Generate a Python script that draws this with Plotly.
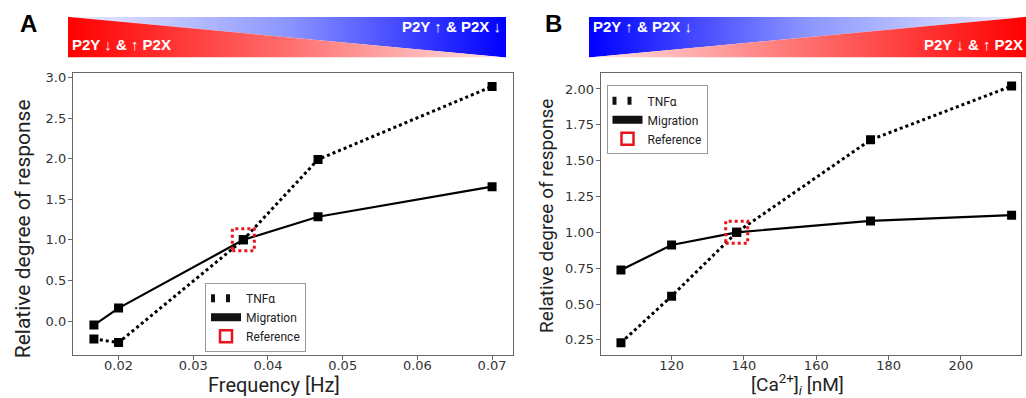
import plotly.graph_objects as go

# ---------------- data ----------------
freq_hz = [0.0167, 0.02, 0.0367, 0.0467, 0.07]
tnfa_a = [-0.22, -0.265, 1.0, 1.99, 2.89]
migration_a = [-0.05, 0.16, 1.0, 1.285, 1.655]
ref_a_x = [0.0367]
ref_a_y = [1.0]

ca_nm = [106, 120, 138, 175, 214]
tnfa_b = [0.23, 0.555, 1.0, 1.645, 2.02]
migration_b = [0.737, 0.912, 1.0, 1.08, 1.12]
ref_b_x = [138]
ref_b_y = [1.0]

legend_names = ["TNFα", "Migration", "Reference"]
banner_up_text = "P2Y ↑ & P2X ↓"
banner_down_text = "P2Y ↓ & ↑ P2X"

W, H = 1026, 398


def px(x):
    return x / W


def py(y):
    return 1 - y / H


fig = go.Figure()

# ---------------- data traces ----------------
for xs, ys, ax in [(freq_hz, tnfa_a, ("x", "y")), (ca_nm, tnfa_b, ("x2", "y2"))]:
    fig.add_trace(go.Scatter(x=xs, y=ys, mode="lines+markers", xaxis=ax[0], yaxis=ax[1],
                             line=dict(color="black", width=3, dash="dot"),
                             marker=dict(symbol="square", size=9, color="black"),
                             showlegend=False, hoverinfo="x+y"))
for xs, ys, ax in [(freq_hz, migration_a, ("x", "y")), (ca_nm, migration_b, ("x2", "y2"))]:
    fig.add_trace(go.Scatter(x=xs, y=ys, mode="lines+markers", xaxis=ax[0], yaxis=ax[1],
                             line=dict(color="black", width=2.2),
                             marker=dict(symbol="square", size=9, color="black"),
                             showlegend=False, hoverinfo="x+y"))

# reference markers (dotted red squares anchored at data points)
for rx, ry, xr, yr in [(ref_a_x, ref_a_y, "x", "y"), (ref_b_x, ref_b_y, "x2", "y2")]:
    for xv, yv in zip(rx, ry):
        fig.add_shape(type="rect", xref=xr, yref=yr, xsizemode="pixel", ysizemode="pixel",
                      xanchor=xv, yanchor=yv, x0=-11, x1=11, y0=-11, y1=11,
                      line=dict(color="#e8141c", width=3, dash="dot"), fillcolor="rgba(0,0,0,0)")

# ---------------- legend-only traces ----------------
for lg, ax in [("legend", ("x", "y")), ("legend2", ("x2", "y2"))]:
    fig.add_trace(go.Scatter(x=[None], y=[None], mode="lines", name=legend_names[0], legend=lg,
                             xaxis=ax[0], yaxis=ax[1],
                             line=dict(color="#111", width=8, dash="4px,11px")))
    fig.add_trace(go.Scatter(x=[None], y=[None], mode="lines", name=legend_names[1], legend=lg,
                             xaxis=ax[0], yaxis=ax[1],
                             line=dict(color="#111", width=8)))
    fig.add_trace(go.Scatter(x=[None], y=[None], mode="markers", name=legend_names[2], legend=lg,
                             xaxis=ax[0], yaxis=ax[1],
                             marker=dict(symbol="square-open", size=12, color="#e8141c",
                                         line=dict(width=2.5, color="#e8141c"))))

# ---------------- gradient banners ----------------
red_scale_lr = [[0, "rgb(255,0,0)"], [0.5, "rgb(255,110,110)"], [1, "rgb(255,228,228)"]]
red_scale_rl = [[0, "rgb(255,228,228)"], [0.5, "rgb(255,110,110)"], [1, "rgb(255,0,0)"]]
blue_scale_lr = [[0, "rgb(236,238,255)"], [0.5, "rgb(140,150,255)"], [1, "rgb(0,0,255)"]]
blue_scale_rl = [[0, "rgb(0,0,255)"], [0.5, "rgb(140,150,255)"], [1, "rgb(236,238,255)"]]

# banner A (axes x3/y3)
fig.add_trace(go.Scatter(x=[0, 1, 1, 0], y=[1, 1, 0, 1], xaxis="x3", yaxis="y3", mode="lines",
                         fill="toself", line=dict(width=0),
                         fillgradient=dict(type="horizontal", colorscale=blue_scale_lr),
                         showlegend=False, hoverinfo="skip"))
fig.add_trace(go.Scatter(x=[0, 0, 1, 0], y=[1, 0, 0, 1], xaxis="x3", yaxis="y3", mode="lines",
                         fill="toself", line=dict(width=0),
                         fillgradient=dict(type="horizontal", colorscale=red_scale_lr),
                         showlegend=False, hoverinfo="skip"))
# banner B (axes x4/y4)
fig.add_trace(go.Scatter(x=[0, 1, 0, 0], y=[1, 1, 0, 1], xaxis="x4", yaxis="y4", mode="lines",
                         fill="toself", line=dict(width=0),
                         fillgradient=dict(type="horizontal", colorscale=blue_scale_rl),
                         showlegend=False, hoverinfo="skip"))
fig.add_trace(go.Scatter(x=[0, 1, 1, 0], y=[0, 0, 1, 0], xaxis="x4", yaxis="y4", mode="lines",
                         fill="toself", line=dict(width=0),
                         fillgradient=dict(type="horizontal", colorscale=red_scale_rl),
                         showlegend=False, hoverinfo="skip"))

# ---------------- axes ----------------
tickfont = dict(family="DejaVu Sans", size=13, color="#333")
common = dict(showline=True, linecolor="#666", linewidth=1.3, mirror=True, ticks="outside",
              ticklen=4, tickcolor="#666", tickwidth=1, showgrid=False, zeroline=False,
              tickfont=tickfont)
xcommon = dict(ticklabelstandoff=-6, **common)
ycommon = dict(ticklabelstandoff=-1, **common)

ydom = [py(354.5), py(71)]
fig.update_layout(
    xaxis=dict(domain=[px(73), px(513)], range=[0.0139, 0.0728], tickvals=[0.02, 0.03, 0.04, 0.05, 0.06, 0.07],
               tickformat=".2f", anchor="y", **xcommon),
    yaxis=dict(domain=ydom, range=[-0.416, 3.05], tickvals=[0, 0.5, 1.0, 1.5, 2.0, 2.5, 3.0],
               tickformat=".1f", anchor="x", **ycommon),
    xaxis2=dict(domain=[px(600.7), px(1021)], range=[100.4, 216.6], tickvals=[120, 140, 160, 180, 200],
                anchor="y2", **xcommon),
    yaxis2=dict(domain=ydom, range=[0.146, 2.108], tickvals=[0.25, 0.5, 0.75, 1.0, 1.25, 1.5, 1.75, 2.0],
                tickformat=".2f", anchor="x2", **ycommon),
    xaxis3=dict(domain=[px(68), px(506)], range=[0, 1], visible=False, fixedrange=True, anchor="y3"),
    yaxis3=dict(domain=[py(55), py(14)], range=[0, 1], visible=False, fixedrange=True, anchor="x3"),
    xaxis4=dict(domain=[px(589), 1.0], range=[0, 1], visible=False, fixedrange=True, anchor="y4"),
    yaxis4=dict(domain=[py(55), py(14)], range=[0, 1], visible=False, fixedrange=True, anchor="x4"),
)

legend_common = dict(bgcolor="white", bordercolor="#999", borderwidth=1,
                     font=dict(family="Roboto", size=12, color="#222"),
                     xanchor="left", yanchor="top", tracegroupgap=0, itemwidth=30)
fig.update_layout(
    legend=dict(x=px(205), y=py(282), **legend_common),
    legend2=dict(x=px(606.5), y=py(83), **legend_common),
)

# ---------------- annotations ----------------
ann = []
title_font = dict(family="Roboto", size=20, color="#222")
ann.append(dict(text="Relative degree of response", x=px(23), y=py(228), textangle=-90,
                font=dict(family="Roboto", size=21, color="#222")))
ann.append(dict(text="Relative degree of response", x=px(547), y=py(214.5), textangle=-90,
                font=dict(family="Roboto", size=19, color="#222")))
ann.append(dict(text="Frequency [Hz]", x=px(274), y=py(385), font=title_font))
ann.append(dict(text="[Ca<sup>2+</sup>]<sub><i>i</i></sub> [nM]", x=px(797), y=py(384),
                font=dict(family="Roboto", size=19, color="#222")))
# panel labels
lab_font = dict(family="Liberation Sans", size=24, color="black")
ann.append(dict(text="<b>A</b>", x=px(28), y=py(21), font=lab_font))
ann.append(dict(text="<b>B</b>", x=px(553), y=py(21), font=lab_font))
# banner texts
bfont = dict(family="Liberation Sans", size=15, color="white")
ann.append(dict(text="<b>" + banner_down_text + "</b>", x=px(70), y=py(42), xanchor="left", font=bfont))
ann.append(dict(text="<b>" + banner_up_text + "</b>", x=px(503), y=py(24), xanchor="right", font=bfont))
ann.append(dict(text="<b>" + banner_up_text + "</b>", x=px(591), y=py(24), xanchor="left", font=bfont))
ann.append(dict(text="<b>" + banner_down_text + "</b>", x=px(1025), y=py(42), xanchor="right", font=bfont))

for a in ann:
    a.setdefault("xanchor", "center")
    a.setdefault("yanchor", "middle")
    a.update(xref="paper", yref="paper", showarrow=False)
fig.update_layout(annotations=ann)

fig.update_layout(width=W, height=H, margin=dict(l=0, r=0, t=0, b=0),
                  paper_bgcolor="white", plot_bgcolor="white")

fig.write_html("out.html", config={"displayModeBar": False},
               post_script="document.body.style.margin='0px';document.body.style.overflow='hidden';")
